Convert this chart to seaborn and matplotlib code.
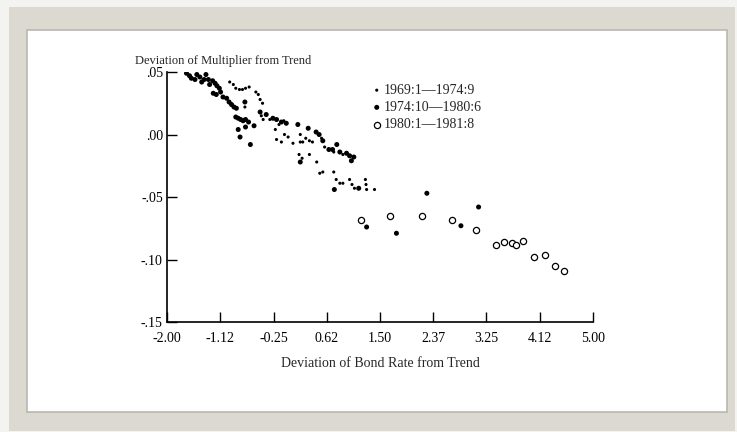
import numpy as np
import pandas as pd
import matplotlib
matplotlib.use("Agg")
import matplotlib.pyplot as plt
from matplotlib.patches import Rectangle
import seaborn as sns

# period 1969:1-1974:9 (small dots)
x_early = [-0.97, -0.91, -0.87, -0.81, -0.76, -0.71, -0.65, -0.54, -0.50, -0.47,
           -0.43, -0.72, -0.45, -0.42, -0.31, -0.16, -0.08, -0.22, -0.20, -0.12,
           -0.07, -0.01, 0.07, 0.19, 0.19, 0.23, 0.28, 0.34, 0.39, 0.54,
           0.59, 0.74, 0.89, 0.17, 0.22, 0.34, 0.46, 0.51, 0.56, 0.74,
           0.78, 0.84, 0.89, 1.00, 1.04, 1.08, 1.26, 1.27, 1.28, 1.41]
y_early = [0.042, 0.040, 0.037, 0.036, 0.036, 0.037, 0.038, 0.034, 0.032, 0.028,
           0.025, 0.022, 0.015, 0.012, 0.012, 0.008, 0.011, 0.004, -0.004, -0.006,
           0.000, -0.002, -0.007, -0.000, -0.006, -0.006, -0.003, -0.005, -0.006, -0.003,
           -0.010, -0.014, -0.016, -0.016, -0.019, -0.016, -0.022, -0.031, -0.030, -0.030,
           -0.036, -0.039, -0.039, -0.036, -0.040, -0.043, -0.036, -0.040, -0.044, -0.044]

# period 1974:10-1980:6 (large dots)
x_mid = [-1.68, -1.63, -1.60, -1.54, -1.51, -1.46, -1.43, -1.39, -1.36, -1.32,
         -1.30, -1.25, -1.21, -1.18, -1.14, -1.24, -1.19, -1.12, -1.08, -1.02,
         -0.98, -0.94, -0.90, -0.86, -0.87, -0.83, -0.79, -0.75, -0.71, -0.66,
         -0.83, -0.80, -0.71, -0.63, -0.57, -0.72, -0.47, -0.37, -0.26, -0.20,
         -0.12, -0.04, 0.15, 0.32, 0.45, 0.50, 0.56, 0.66, 0.72, 0.79,
         0.84, 0.95, 1.00, 1.03, 1.07, 0.19, 0.75, 1.15,
         1.28, 1.77, 2.27, 2.83, 3.12]
y_mid = [0.049, 0.047, 0.045, 0.044, 0.048, 0.046, 0.042, 0.044, 0.048, 0.044,
         0.040, 0.043, 0.041, 0.039, 0.037, 0.033, 0.032, 0.034, 0.030, 0.029,
         0.026, 0.024, 0.022, 0.021, 0.014, 0.013, 0.012, 0.011, 0.012, 0.010,
         0.004, -0.002, 0.006, -0.008, 0.007, 0.026, 0.018, 0.016, 0.013, 0.012,
         0.010, 0.009, 0.008, 0.005, 0.002, -0.000, -0.005, -0.012, -0.012, -0.008,
         -0.014, -0.015, -0.017, -0.021, -0.018, -0.022, -0.044, -0.043,
         -0.074, -0.079, -0.047, -0.073, -0.058]

# period 1980:1-1981:8 (open circles)
x_late = [1.18, 1.66, 2.19, 2.69, 3.07, 3.40, 3.54, 3.67, 3.73, 3.85, 4.03, 4.21, 4.38, 4.52]
y_late = [-0.068, -0.065, -0.065, -0.068, -0.076, -0.088, -0.086, -0.087, -0.088,
          -0.085, -0.098, -0.096, -0.105, -0.109]

x_ticks = [-2.00, -1.12, -0.25, 0.62, 1.50, 2.37, 3.25, 4.12, 5.00]
x_tick_pos = [-2.0 + 0.875 * i for i in range(9)]
y_ticks = [0.05, 0.00, -0.05, -0.10, -0.15]
y_tick_labels = [".05", ".00", "-.05", "-.10", "-.15"]

sns.set_style("ticks")
plt.rcParams['font.family'] = ['Liberation Serif', 'DejaVu Serif']

fig = plt.figure(figsize=(7.37, 4.32), dpi=100)
fig.patch.set_facecolor('#f3f3f2')
fig.patches.append(Rectangle((0.0122, 0.0023), 0.985, 0.981, transform=fig.transFigure,
                             facecolor='#dcd9d1', edgecolor='none', zorder=-3))
fig.patches.append(Rectangle((0.0366, 0.0463), 0.950, 0.884, transform=fig.transFigure,
                             facecolor='white', edgecolor='#b9b7b1', linewidth=1.2, zorder=-2))

ax = fig.add_axes([0.2266, 0.2546, 0.578, 0.5787])
ax.set_facecolor('none')

sns.scatterplot(x=x_early, y=y_early, ax=ax, color='black', s=5, marker='o',
                edgecolor='none', label='1969:1\u20141974:9')
sns.scatterplot(x=x_mid, y=y_mid, ax=ax, color='black', s=13, marker='o',
                edgecolor='none', label='1974:10\u20141980:6')
sns.scatterplot(x=x_late, y=y_late, ax=ax, facecolor='white', s=20, marker='o',
                edgecolor='black', linewidth=0.9, label='1980:1\u20141981:8')

ax.set_xlim(-2.0, 5.0)
ax.set_ylim(-0.15, 0.05)
ax.set_xticks(x_tick_pos)
ax.set_xticklabels([f"{v:.2f}" for v in x_ticks])
ax.set_yticks(y_ticks)
ax.set_yticklabels(y_tick_labels)
ax.tick_params(direction='in', length=7, width=1, labelsize=10, colors='black')
ax.tick_params(axis='x', pad=7)
ax.tick_params(axis='y', pad=3)
sns.despine(ax=ax)
for side in ['left', 'bottom']:
    ax.spines[side].set_linewidth(1.2)
    ax.spines[side].set_color('black')

ax.set_xlabel('Deviation of Bond Rate from Trend', fontsize=10, labelpad=9)
fig.text(0.183, 0.852, 'Deviation of Multiplier from Trend', fontsize=9,
         ha='left', va='baseline')

leg = ax.legend(loc='upper left', bbox_to_anchor=(0.463, 0.975), frameon=False,
                handletextpad=0.0, labelspacing=0.3, borderaxespad=0,
                handlelength=1.0, fontsize=10)

fig.savefig('out.png', dpi=100)
